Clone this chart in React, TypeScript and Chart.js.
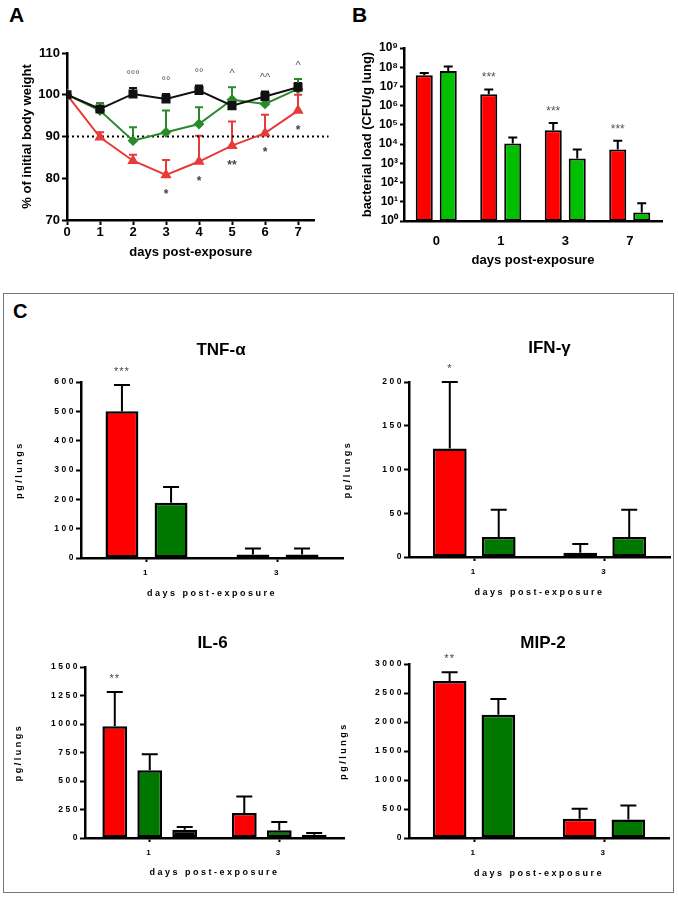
import React, { useEffect, useRef } from 'react';
import { Chart, registerables } from 'chart.js';

Chart.register(...registerables);

const FONT = '"Liberation Sans", Arial, Helvetica, sans-serif';
Chart.defaults.font.family = FONT;
Chart.defaults.color = '#000';

// ---------------- Panel A: body weight ----------------
const daysA = [0, 1, 2, 3, 4, 5, 6, 7];
const blackA = [100, 96.6, 100.2, 99.0, 101.0, 97.4, 99.6, 101.8];
const blackAHi = [100, 97.2, 101.6, 100.2, 102.2, 98.2, 100.8, 102.8];
const greenA = [100, 96.2, 89.0, 91.0, 93.0, 98.8, 97.8, 101.4];
const greenAHi = [100, 98.0, 92.2, 96.2, 97.0, 101.8, 99.0, 103.8];
const redA = [100, 89.8, 84.2, 80.8, 84.0, 87.8, 90.8, 96.2];
const redAHi = [100, 91.0, 85.6, 84.4, 90.2, 93.6, 95.2, 100.0];
const topMarksA = ['', '', '°°°', '°°', '°°', '^', '^^', '^'];
const bottomMarksA = ['', '', '', '*', '*', '**', '*', '*'];
const thresholdA = 90;

// ---------------- Panel B: bacterial load ----------------
const catsB = ['0', '1', '3', '7'];
const redB = [3.8e7, 3.9e6, 5.3e4, 5.2e3];
const redBHi = [5.0e7, 7.0e6, 1.27e5, 1.5e4];
const greenB = [6.3e7, 1.07e4, 1.8e3, 2.8];
const greenBHi = [1.1e8, 2.2e4, 5.2e3, 8.3];
const marksB = ['', '***', '***', '***'];
const expB = [0, 1, 2, 3, 4, 5, 6, 7, 8, 9];

// ---------------- Panel C: cytokines ----------------
const catsC = ['1', '3'];
const tnfRed = [500, 12];
const tnfRedHi = [590, 32];
const tnfGreen = [188, 12];
const tnfGreenHi = [242, 32];
const tnfMarks = ['***', ''];

const ifnRed = [124, 5];
const ifnRedHi = [200, 15];
const ifnGreen = [23, 23];
const ifnGreenHi = [54, 54];
const ifnMarks = ['*', ''];

const il6Red = [980, 219];
const il6RedHi = [1280, 365];
const il6Green = [594, 67];
const il6GreenHi = [734, 140];
const il6Black = [73, 29];
const il6BlackHi = [96, 44];
const il6Marks = ['**', ''];

const mipRed = [2708, 333];
const mipRedHi = [2857, 505];
const mipGreen = [2123, 321];
const mipGreenHi = [2398, 562];
const mipMarks = ['**', ''];

const SUP = ['⁰', '¹', '²', '³', '⁴', '⁵', '⁶', '⁷', '⁸', '⁹'];

// ---------------- plugins ----------------
function drawErrors(chart: any, opts: any) {
  const ctx = chart.ctx;
  const ys = chart.scales.y;
  chart.data.datasets.forEach((ds: any, di: number) => {
    const hi = ds.errHi;
    if (!hi) return;
    const meta = chart.getDatasetMeta(di);
    ctx.save();
    ctx.strokeStyle = ds.errColor || '#000';
    ctx.lineWidth = opts.lineWidth || 2;
    ctx.setLineDash([]);
    meta.data.forEach((el: any, i: number) => {
      if (hi[i] == null) return;
      const x = el.x;
      const y0 = el.y;
      const y1 = ys.getPixelForValue(hi[i]);
      if (y0 - y1 < 1) return;
      const cw = opts.cap || 8;
      ctx.beginPath();
      ctx.moveTo(x, y0);
      ctx.lineTo(x, y1);
      ctx.moveTo(x - cw / 2, y1);
      ctx.lineTo(x + cw / 2, y1);
      ctx.stroke();
    });
    ctx.restore();
  });
}

const errorBarsBehind = {
  id: 'errorBarsBehind',
  beforeDatasetsDraw(chart: any, _a: any, opts: any) {
    if (opts && opts.enabled) drawErrors(chart, opts);
  },
};
const errorBarsFront = {
  id: 'errorBarsFront',
  afterDatasetsDraw(chart: any, _a: any, opts: any) {
    if (opts && opts.enabled) drawErrors(chart, opts);
  },
};

const marksPlugin = {
  id: 'marks',
  afterDraw(chart: any, _a: any, opts: any) {
    const ctx = chart.ctx;
    const ys = chart.scales.y;
    ((opts && opts.items) || []).forEach((it: any) => {
      const meta = chart.getDatasetMeta(it.datasetIndex);
      ctx.save();
      ctx.letterSpacing = it.spacing || '0px';
      ctx.font = it.font;
      ctx.fillStyle = it.color;
      ctx.textAlign = 'center';
      ctx.textBaseline = 'alphabetic';
      it.labels.forEach((lab: string, i: number) => {
        if (!lab) return;
        const el = meta.data[i];
        const cy = ys.getPixelForValue(it.anchors[i]) + it.offset;
        ctx.fillText(lab, el.x, cy + it.baselineShift);
      });
      ctx.restore();
    });
  },
};

const refLinePlugin = {
  id: 'refLine',
  beforeDatasetsDraw(chart: any, _a: any, opts: any) {
    if (!opts || opts.value == null) return;
    const ctx = chart.ctx;
    const ca = chart.chartArea;
    const y = chart.scales.y.getPixelForValue(opts.value);
    ctx.save();
    ctx.strokeStyle = '#000';
    ctx.lineWidth = 2;
    ctx.setLineDash([2, 3]);
    ctx.beginPath();
    ctx.moveTo(ca.left, y);
    ctx.lineTo(ca.right + (opts.extend || 0), y);
    ctx.stroke();
    ctx.restore();
  },
};

const spacingPlugin = {
  id: 'spacing',
  beforeDraw(chart: any, _a: any, opts: any) {
    chart.ctx.letterSpacing = (opts && opts.value) || '0px';
  },
};

const panelTitlePlugin = {
  id: 'panelTitle',
  afterDraw(chart: any, _a: any, opts: any) {
    if (!opts || !opts.text) return;
    const ctx = chart.ctx;
    const ca = chart.chartArea;
    ctx.save();
    ctx.letterSpacing = '0px';
    ctx.font = `bold 17px ${FONT}`;
    ctx.fillStyle = '#000';
    ctx.textAlign = 'center';
    ctx.textBaseline = 'middle';
    ctx.fillText(opts.text, (ca.left + ca.right) / 2 + opts.dx, ca.top - opts.dy);
    ctx.restore();
  },
};

// ---------------- helpers ----------------
type Box = { left: number; top: number; w: number; h: number };
type Area = { left: number; top: number; right: number; bottom: number };

function mkLayout(c: Box, a: Area) {
  return {
    padding: { left: 0, top: a.top - c.top, right: c.left + c.w - a.right, bottom: 0 },
    yWidth: a.left - c.left,
    xHeight: c.top + c.h - a.bottom,
  };
}

function tickGrid(tickLength: number, show = true) {
  return {
    display: show,
    drawOnChartArea: false,
    drawTicks: true,
    tickLength,
    tickWidth: 2,
    tickColor: '#000',
    color: '#000',
    offset: false,
  };
}
const axisBorder = { display: true, width: 2.5, color: '#000' };

// ---------------- Panel A config ----------------
const boxA: Box = { left: 0, top: 0, w: 340, h: 290 };
const areaA: Area = { left: 67, top: 53, right: 314.5, bottom: 220 };
function configA(): any {
  const L = mkLayout(boxA, areaA);
  const lh = 13 * 1.2;
  const topAnchors = daysA.map((_, i) => Math.max(blackAHi[i], greenAHi[i]));
  return {
    type: 'line',
    data: {
      datasets: [
        {
          data: daysA.map((d, i) => ({ x: d, y: blackA[i] })),
          borderColor: '#111', backgroundColor: '#111', pointBackgroundColor: '#111', pointBorderColor: '#111',
          pointStyle: 'rect', pointRadius: 5, borderWidth: 2, tension: 0,
          errHi: blackAHi, errColor: '#111',
        },
        {
          data: daysA.map((d, i) => ({ x: d, y: greenA[i] })),
          borderColor: '#2a8a2a', backgroundColor: '#2a8a2a', pointBackgroundColor: '#2a8a2a', pointBorderColor: '#2a8a2a',
          pointStyle: 'rectRot', pointRadius: 4, borderWidth: 2, tension: 0,
          errHi: greenAHi, errColor: '#2a8a2a',
        },
        {
          data: daysA.map((d, i) => ({ x: d, y: redA[i] })),
          borderColor: '#e83a3a', backgroundColor: '#e83a3a', pointBackgroundColor: '#e83a3a', pointBorderColor: '#e83a3a',
          pointStyle: 'triangle', pointRadius: 4.5, borderWidth: 2, tension: 0,
          errHi: redAHi, errColor: '#e83a3a',
        },
      ],
    },
    options: {
      responsive: false,
      animation: false,
      layout: { padding: L.padding },
      plugins: {
        legend: { display: false },
        tooltip: { enabled: false },
        errorBarsBehind: { enabled: true, cap: 8, lineWidth: 2 },
        refLine: { value: thresholdA, extend: 14 },
        marks: {
          items: [
            { datasetIndex: 0, labels: topMarksA, anchors: topAnchors, offset: -15, baselineShift: 5, font: `11px ${FONT}`, color: '#555' },
            { datasetIndex: 2, labels: bottomMarksA, anchors: redA, offset: 16, baselineShift: 7, font: `bold 12px ${FONT}`, color: '#444' },
          ],
        },
      },
      scales: {
        x: {
          type: 'linear', min: 0, max: 7.5,
          afterBuildTicks: (s: any) => { s.ticks = daysA.map((v) => ({ value: v })); },
          ticks: { font: { size: 13, weight: 'bold' }, color: '#000', padding: 0 },
          grid: tickGrid(5),
          border: axisBorder,
          title: { display: true, text: 'days post-exposure', font: { size: 13, weight: 'bold' }, color: '#000', padding: { top: 0, bottom: boxA.top + boxA.h - lh / 2 - 252 } },
          afterFit: (s: any) => { s.height = L.xHeight; },
        },
        y: {
          min: 70, max: 110,
          ticks: { stepSize: 10, font: { size: 13, weight: 'bold' }, color: '#000', padding: 2 },
          grid: tickGrid(5),
          border: axisBorder,
          title: { display: true, text: '% of initial body weight', font: { size: 13, weight: 'bold' }, color: '#000', padding: { top: 27.5 - boxA.left - lh / 2, bottom: 0 } },
          afterFit: (s: any) => { s.width = L.yWidth; },
        },
      },
    },
    plugins: [errorBarsBehind, refLinePlugin, marksPlugin],
  };
}

// ---------------- Panel B config ----------------
const boxB: Box = { left: 340, top: 0, w: 338, h: 290 };
const areaB: Area = { left: 404, top: 48, right: 662, bottom: 221 };
function configB(): any {
  const L = mkLayout(boxB, areaB);
  const lh = 13 * 1.2;
  const bar = { borderColor: '#000', borderWidth: 2, borderSkipped: false, categoryPercentage: 0.744, barPercentage: 0.71 };
  return {
    type: 'bar',
    data: {
      labels: catsB,
      datasets: [
        { ...bar, data: redB, backgroundColor: '#ff0000', errHi: redBHi },
        { ...bar, data: greenB, backgroundColor: '#00c000', errHi: greenBHi },
      ],
    },
    options: {
      responsive: false,
      animation: false,
      layout: { padding: L.padding },
      plugins: {
        legend: { display: false },
        tooltip: { enabled: false },
        errorBarsFront: { enabled: true, cap: 9, lineWidth: 2 },
        marks: {
          items: [
            { datasetIndex: 0, labels: marksB, anchors: redBHi, offset: -15, baselineShift: 7, font: `12px ${FONT}`, color: '#555' },
          ],
        },
      },
      scales: {
        x: {
          type: 'category',
          ticks: { font: { size: 13, weight: 'bold' }, color: '#000', padding: 5 },
          grid: { display: false },
          border: axisBorder,
          title: { display: true, text: 'days post-exposure', font: { size: 13, weight: 'bold' }, color: '#000', padding: { top: 0, bottom: boxB.top + boxB.h - lh / 2 - 260 } },
          afterFit: (s: any) => { s.height = L.xHeight; },
        },
        y: {
          type: 'logarithmic', min: 1, max: 1e9,
          afterBuildTicks: (s: any) => { s.ticks = expB.map((e) => ({ value: Math.pow(10, e) })); },
          ticks: {
            font: { size: 12, weight: 'bold' }, color: '#000', padding: 2,
            callback: (v: any) => '10' + SUP[Math.round(Math.log10(Number(v)))],
          },
          grid: tickGrid(4),
          border: axisBorder,
          title: { display: true, text: 'bacterial load (CFU/g lung)', font: { size: 13, weight: 'bold' }, color: '#000', padding: { top: 367 - boxB.left - lh / 2, bottom: 0 } },
          afterFit: (s: any) => { s.width = L.yWidth; },
        },
      },
    },
    plugins: [errorBarsFront, marksPlugin],
  };
}

// ---------------- Panel C config ----------------
type CySpec = {
  box: Box; area: Area; title: string; dx: number; dy: number;
  yMax: number; yStep: number; yTitleX: number; xTitleY: number;
  datasets: any[]; marks: string[]; markAnchors: number[];
  catPct: number; barPct: number;
};
function configC(p: CySpec): any {
  const L = mkLayout(p.box, p.area);
  const lh = 9 * 1.2;
  return {
    type: 'bar',
    data: {
      labels: catsC,
      datasets: p.datasets.map((d) => ({
        borderColor: '#000', borderWidth: 2.5, borderSkipped: false,
        categoryPercentage: p.catPct, barPercentage: p.barPct, ...d,
      })),
    },
    options: {
      responsive: false,
      animation: false,
      layout: { padding: L.padding },
      plugins: {
        legend: { display: false },
        tooltip: { enabled: false },
        spacing: { value: '2.5px' },
        errorBarsFront: { enabled: true, cap: 16, lineWidth: 2 },
        panelTitle: { text: p.title, dx: p.dx, dy: p.dy },
        marks: {
          items: [
            { datasetIndex: 0, labels: p.marks, anchors: p.markAnchors, offset: -16, baselineShift: 6, font: `11px ${FONT}`, color: '#444', spacing: '1px' },
          ],
        },
      },
      scales: {
        x: {
          type: 'category',
          ticks: { font: { size: 8, weight: 'bold' }, color: '#000', padding: 6 },
          grid: tickGrid(4),
          border: axisBorder,
          title: { display: true, text: 'days post-exposure', font: { size: 9, weight: 'bold' }, color: '#000', padding: { top: 0, bottom: p.box.top + p.box.h - lh / 2 - p.xTitleY } },
          afterFit: (s: any) => { s.height = L.xHeight; },
        },
        y: {
          min: 0, max: p.yMax,
          ticks: {
            stepSize: p.yStep, font: { size: 8.5, weight: 'bold' }, color: '#000', padding: 0,
            callback: (v: any) => String(v),
          },
          grid: tickGrid(5),
          border: axisBorder,
          title: { display: true, text: 'pg/lungs', font: { size: 9, weight: 'bold' }, color: '#000', padding: { top: p.yTitleX - p.box.left - lh / 2, bottom: 0 } },
          afterFit: (s: any) => { s.width = L.yWidth; },
        },
      },
    },
    plugins: [spacingPlugin, errorBarsFront, panelTitlePlugin, marksPlugin],
  };
}

const RED = '#ff0000';
const GREEN = '#007800';

const specTNF: CySpec = {
  box: { left: 5, top: 335, w: 340, h: 265 }, area: { left: 81, top: 382, right: 343, bottom: 558 },
  title: 'TNF-α', dx: 9, dy: 32, yMax: 600, yStep: 100, yTitleX: 20, xTitleY: 594,
  datasets: [
    { data: tnfRed, backgroundColor: RED, errHi: tnfRedHi },
    { data: tnfGreen, backgroundColor: GREEN, errHi: tnfGreenHi },
  ],
  marks: tnfMarks, markAnchors: tnfRedHi, catPct: 0.75, barPct: 0.67,
};
const specIFN: CySpec = {
  box: { left: 338, top: 335, w: 335, h: 265 }, area: { left: 409, top: 382, right: 670, bottom: 557 },
  title: 'IFN-γ', dx: 10, dy: 34, yMax: 200, yStep: 50, yTitleX: 347.5, xTitleY: 593,
  datasets: [
    { data: ifnRed, backgroundColor: RED, errHi: ifnRedHi },
    { data: ifnGreen, backgroundColor: GREEN, errHi: ifnGreenHi },
  ],
  marks: ifnMarks, markAnchors: ifnRedHi, catPct: 0.75, barPct: 0.69,
};
const specIL6: CySpec = {
  box: { left: 5, top: 615, w: 340, h: 270 }, area: { left: 85, top: 667, right: 344, bottom: 838 },
  title: 'IL-6', dx: -2, dy: 24, yMax: 1500, yStep: 250, yTitleX: 19, xTitleY: 873,
  datasets: [
    { data: il6Red, backgroundColor: RED, errHi: il6RedHi },
    { data: il6Green, backgroundColor: GREEN, errHi: il6GreenHi },
    { data: il6Black, backgroundColor: '#000', errHi: il6BlackHi },
  ],
  marks: il6Marks, markAnchors: il6RedHi, catPct: 0.81, barPct: 0.71,
};
const specMIP: CySpec = {
  box: { left: 338, top: 615, w: 335, h: 270 }, area: { left: 409, top: 664, right: 669, bottom: 838 },
  title: 'MIP-2', dx: 4, dy: 21, yMax: 3000, yStep: 500, yTitleX: 344, xTitleY: 874,
  datasets: [
    { data: mipRed, backgroundColor: RED, errHi: mipRedHi },
    { data: mipGreen, backgroundColor: GREEN, errHi: mipGreenHi },
  ],
  marks: mipMarks, markAnchors: mipRedHi, catPct: 0.75, barPct: 0.69,
};

// ---------------- components ----------------
function ChartCanvas({ box, make }: { box: Box; make: () => any }) {
  const ref = useRef<HTMLCanvasElement>(null);
  useEffect(() => {
    const chart = new Chart(ref.current as HTMLCanvasElement, make());
    return () => chart.destroy();
  }, []);
  return (
    <canvas
      ref={ref}
      width={box.w}
      height={box.h}
      style={{ position: 'absolute', left: box.left, top: box.top, width: box.w, height: box.h }}
    />
  );
}

const letterStyle = (left: number, top: number, size: number): React.CSSProperties => ({
  position: 'absolute', left, top, fontFamily: FONT, fontWeight: 'bold', fontSize: size, lineHeight: 1, color: '#000',
});

export default function App() {
  return (
    <div style={{ position: 'absolute', left: 0, top: 0, width: 678, height: 898, background: '#fff', overflow: 'hidden' }}>
      <div style={letterStyle(9, 4, 21)}>A</div>
      <div style={letterStyle(352, 4, 21)}>B</div>
      <div
        style={{ position: 'absolute', left: 3, top: 293, width: 671, height: 600, border: '1px solid #777', boxSizing: 'border-box' }}
      />
      <div style={letterStyle(13, 301, 20)}>C</div>
      <ChartCanvas box={boxA} make={configA} />
      <ChartCanvas box={boxB} make={configB} />
      <ChartCanvas box={specTNF.box} make={() => configC(specTNF)} />
      <ChartCanvas box={specIFN.box} make={() => configC(specIFN)} />
      <ChartCanvas box={specIL6.box} make={() => configC(specIL6)} />
      <ChartCanvas box={specMIP.box} make={() => configC(specMIP)} />
    </div>
  );
}
